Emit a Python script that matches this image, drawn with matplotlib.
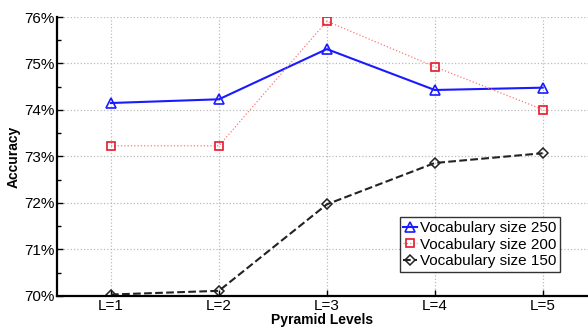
import matplotlib
matplotlib.use("Agg")
import matplotlib.pyplot as plt
from matplotlib.ticker import MultipleLocator, FuncFormatter

plt.rcParams["font.family"] = ["Liberation Sans", "DejaVu Sans"]

levels = ["L=1", "L=2", "L=3", "L=4", "L=5"]
acc_250 = [74.15, 74.23, 75.31, 74.43, 74.48]
acc_200 = [73.23, 73.23, 75.91, 74.93, 74.01]
acc_150 = [70.03, 70.11, 71.97, 72.86, 73.07]

x = list(range(1, len(levels) + 1))

fig = plt.figure(figsize=(5.88, 3.27), dpi=100)
ax = fig.add_axes([0.097, 0.095, 0.903, 0.853])

ax.plot(x, acc_250, color="#1a1aff", lw=1.5, marker="^", ms=7, mfc="none",
        mec="#1a1aff", mew=1.2, label="Vocabulary size 250")
ax.plot(x, acc_200, color="#ff7777", lw=0.9, ls=":", marker="s", ms=5.5, mfc="none",
        mec="#e8192c", mew=1.2, label="Vocabulary size 200")
ax.plot(x, acc_150, color="#222222", lw=1.5, ls="--", marker="D", ms=5, mfc="none",
        mec="#222222", mew=1.1, label="Vocabulary size 150")

ax.set_xlim(0.5, 5.42)
ax.set_ylim(70, 76)
ax.set_xticks(x)
ax.set_xticklabels(levels)
ax.yaxis.set_major_locator(MultipleLocator(1))
ax.yaxis.set_minor_locator(MultipleLocator(0.5))
ax.yaxis.set_major_formatter(FuncFormatter(lambda v, p: f"{v:.0f}%"))
ax.tick_params(direction="in", labelsize=11, length=4, width=1, pad=2)
ax.tick_params(which="minor", direction="in", length=3, width=1)
ax.grid(True, ls=":", color="#bbbbbb", lw=0.9)

for s in ["top", "right"]:
    ax.spines[s].set_visible(False)
for s in ["left", "bottom"]:
    ax.spines[s].set_linewidth(1.6)

ax.set_ylabel("Accuracy", fontsize=10, fontweight="bold", labelpad=2)
ax.set_xlabel("Pyramid Levels", fontsize=10, fontweight="bold", labelpad=0)

leg = ax.legend(loc="lower right", bbox_to_anchor=(0.948, 0.087), fontsize=11,
                frameon=True, fancybox=False, handlelength=0.9, handletextpad=0.2,
                borderpad=0.25, labelspacing=0.15, borderaxespad=0)
leg.get_frame().set_edgecolor("black")
leg.get_frame().set_linewidth(1.0)

fig.savefig("out.png", dpi=100, facecolor="white")
